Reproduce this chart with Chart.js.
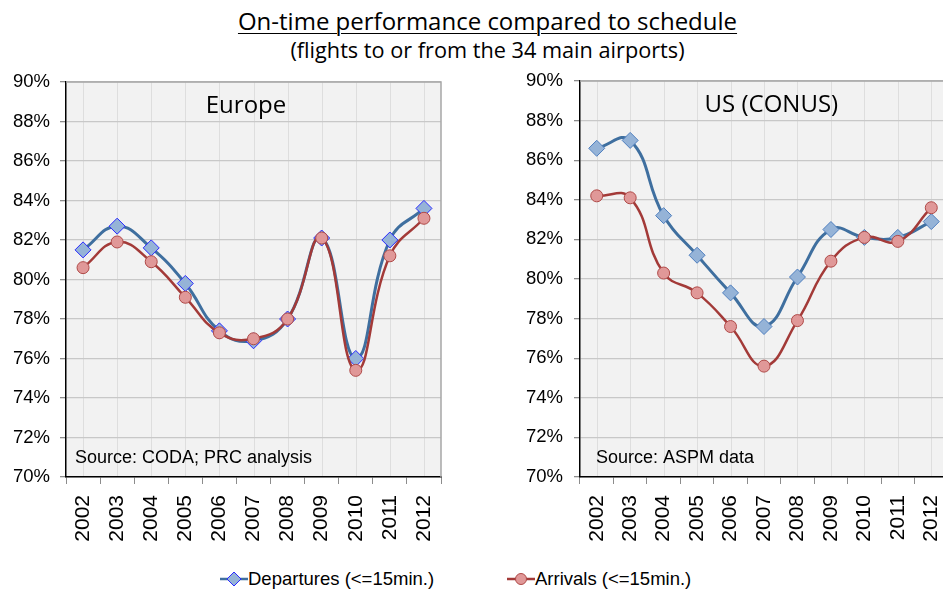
<!DOCTYPE html>
<html><head><meta charset="utf-8">
<script src="https://cdn.jsdelivr.net/npm/chart.js@4.4.1/dist/chart.umd.min.js"></script>
<style>
html,body{margin:0;padding:0;background:#fff;width:943px;height:593px;overflow:hidden;position:relative;}
#t1{position:absolute;left:0;width:975px;top:4px;text-align:center;font:24px "Open Sans",sans-serif;color:#000;text-decoration:underline;text-underline-offset:3px;text-decoration-thickness:1px;}
#t2{position:absolute;left:0;width:975px;top:35px;text-align:center;font:21.7px "Open Sans",sans-serif;color:#000;}
canvas{position:absolute;}
#c1{left:0;top:70px;}
#c2{left:480px;top:70px;}
.leg{position:absolute;top:568px;font:18.5px "Liberation Sans",Arial,sans-serif;color:#000;display:flex;align-items:center;white-space:nowrap;}
</style></head>
<body>
<div id="t1">On-time performance compared to schedule</div>
<div id="t2">(flights to or from the 34 main airports)</div>
<canvas id="c1" width="470" height="485"></canvas>
<canvas id="c2" width="480" height="485"></canvas>
<div class="leg" style="left:220px"><svg width="28" height="20"><line x1="0" y1="10" x2="28" y2="10" stroke="#3f6f9f" stroke-width="2.5"/><path d="M14 3 L21 10 L14 17 L7 10 Z" fill="#95b3d7" stroke="#2a2aff" stroke-width="1"/></svg><span>Departures (&lt;=15min.)</span></div>
<div class="leg" style="left:507px"><svg width="28" height="20"><line x1="0" y1="10" x2="28" y2="10" stroke="#a33a38" stroke-width="2.5"/><circle cx="14" cy="10" r="5.5" fill="#e09898" stroke="#b04a48" stroke-width="1"/></svg><span>Arrivals (&lt;=15min.)</span></div>
<script>
const years = ["2002","2003","2004","2005","2006","2007","2008","2009","2010","2011","2012"];
const europeDepartures = [81.5, 82.7, 81.6, 79.8, 77.4, 76.9, 78.0, 82.1, 76.0, 82.0, 83.6];
const europeArrivals   = [80.6, 81.9, 80.9, 79.1, 77.3, 77.0, 78.0, 82.1, 75.4, 81.2, 83.1];
const usDepartures     = [86.6, 87.0, 83.2, 81.2, 79.3, 77.6, 80.1, 82.5, 82.1, 82.1, 82.9];
const usArrivals       = [84.2, 84.1, 80.3, 79.3, 77.6, 75.6, 77.9, 80.9, 82.1, 81.9, 83.6];
const yMin = 70, yMax = 90, yStep = 2;

const FONT = '"Liberation Sans", Arial, sans-serif';

function makeChart(id, title, source, dep, arr, depBorder, opts) {
  const panelPlugin = {
    id: 'panel',
    beforeDraw(chart) {
      const {ctx, chartArea: a} = chart;
      ctx.save();
      ctx.fillStyle = '#f2f2f2';
      ctx.fillRect(a.left, a.top, a.right - a.left, a.bottom - a.top);
      const xs = chart.scales.x;
      ctx.strokeStyle = '#dedede';
      ctx.lineWidth = 1;
      for (let i = 0; i < years.length; i++) {
        const px = Math.round(xs.getPixelForValue(i)) + 0.5;
        ctx.beginPath(); ctx.moveTo(px, a.top); ctx.lineTo(px, a.bottom); ctx.stroke();
      }
      ctx.restore();
    },
    beforeDatasetsDraw(chart) {
      const {ctx, chartArea: a} = chart;
      ctx.save();
      ctx.strokeStyle = '#a6a6a6';
      ctx.lineWidth = 1.5;
      ctx.beginPath();
      ctx.moveTo(a.left, a.top); ctx.lineTo(a.right, a.top); ctx.lineTo(a.right, a.bottom);
      ctx.stroke();
      ctx.fillStyle = '#000';
      ctx.font = '24px "Open Sans", sans-serif';
      ctx.textAlign = 'center';
      ctx.textBaseline = 'middle';
      ctx.fillText(title, a.left + (a.right - a.left) * opts.titleFrac, a.top + 24);
      ctx.font = '18px ' + FONT;
      ctx.textAlign = 'left';
      ctx.fillText(source, a.left + opts.srcDx, a.bottom - 19);
      ctx.restore();
    }
  };
  return new Chart(document.getElementById(id), {
    type: 'line',
    data: {
      labels: years,
      datasets: [
        {
          label: 'Departures (<=15min.)', data: dep, order: 2,
          borderColor: '#3f6f9f', borderWidth: 3, tension: 0.45,
          pointStyle: 'rectRot', pointRadius: 8, pointBackgroundColor: '#95b3d7',
          pointBorderColor: depBorder, pointBorderWidth: 1, clip: false
        },
        {
          label: 'Arrivals (<=15min.)', data: arr, order: 1,
          borderColor: '#a33a38', borderWidth: 2.5, tension: 0.45,
          pointStyle: 'circle', pointRadius: 6, pointBackgroundColor: '#e09898',
          pointBorderColor: '#b04a48', pointBorderWidth: 1, clip: false
        }
      ]
    },
    options: {
      responsive: false, animation: false, devicePixelRatio: 1,
      layout: {padding: {top: opts.padTop, right: opts.padRight, left: 0, bottom: 0}},
      plugins: {legend: {display: false}, tooltip: {enabled: false}},
      scales: {
        x: {
          type: 'category', offset: true,
          grid: {drawOnChartArea: false, drawTicks: true, tickLength: 7, tickColor: '#8c8c8c', offset: true, lineWidth: 1},
          border: {color: '#000', width: 1.5},
          ticks: {font: {family: FONT, size: 21}, color: '#000', minRotation: 90, maxRotation: 90, padding: 11},
          afterFit(s) { s.height = opts.xAxisH; s.paddingLeft = 0; s.paddingRight = 0; }
        },
        y: {
          min: yMin, max: yMax,
          grid: {color: '#c8c8c8', lineWidth: 1.3, tickLength: 6, tickColor: '#8c8c8c'},
          border: {color: '#000', width: 1.5},
          ticks: {stepSize: yStep, font: {family: FONT, size: 18.5}, color: '#000', padding: opts.yPad,
                  callback: v => v + '%'},
          afterFit(s) { s.width = opts.yAxisW; s.paddingTop = 0; s.paddingBottom = 0; }
        }
      }
    },
    plugins: [panelPlugin]
  });
}

makeChart('c1', 'Europe', 'Source: CODA; PRC analysis', europeDepartures, europeArrivals, '#2a2aff',
  {padTop: 12, padRight: 29, yAxisW: 66, xAxisH: 78, titleFrac: 0.48, srcDx: 9, yPad: 10});
makeChart('c2', 'US (CONUS)', 'Source: ASPM data', usDepartures, usArrivals, '#4f7fbf',
  {padTop: 11, padRight: 12, yAxisW: 100, xAxisH: 78, titleFrac: 0.52, srcDx: 16, yPad: 11});
</script>
</body></html>
